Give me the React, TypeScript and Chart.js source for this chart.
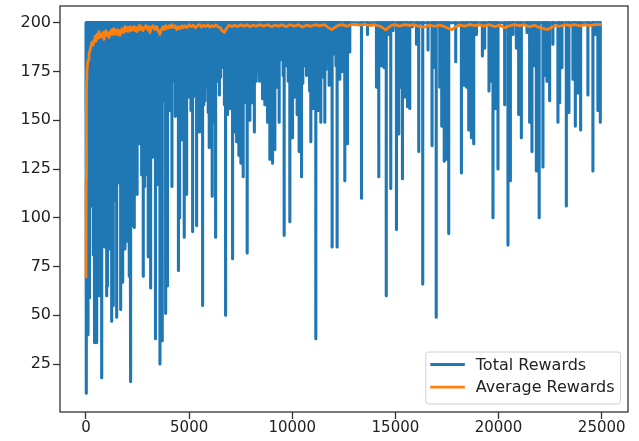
import React, { useEffect, useRef } from "react";
import { Chart, registerables } from "chart.js";

Chart.register(...registerables);

const MAX_REWARD = 200;
const LAST_EPISODE = 25000;
const FIRST_REWARD = 155;

// deep failures (clearly visible spikes)
const dipEpisodes = [
  5, 24, 97, 170, 291, 354, 436, 518, 596, 678, 761, 872, 920, 1003, 1041, 1080, 1163, 1245, 1322, 1405,
  1487, 1516, 1613, 1681, 1778, 1889, 1972, 2001, 2097, 2180, 2262, 2340, 2422, 2533, 2616, 2698, 2776, 2858, 2940, 3018,
  3100, 3134, 3182, 3260, 3367, 3473, 3585, 3696, 3861, 3948, 4069, 4166, 4481, 4553, 4650, 4762, 4878, 5004, 5169, 5280,
  5362, 5440, 5522, 5653, 5764, 5876, 5973, 6118, 6200, 6283, 6409, 6525, 6651, 6767, 6864, 6942, 7024, 7106, 7218, 7300,
  7411, 7508, 7620, 7702, 7813, 7944, 8065, 8162, 8346, 8429, 8559, 8671, 8802, 8913, 9044, 9155, 9267, 9364, 9509, 9606,
  9722, 9882, 10013, 10124, 10235, 10332, 10449, 10574, 10691, 10817, 10899, 11011, 11141, 11253, 11383, 11495, 11577, 11689, 11786, 11931,
  12062, 12173, 12304, 12546, 12677, 12788, 13355, 13646, 14081, 14193, 14324, 14450, 14556, 14692, 14774, 14886, 15050, 15162, 15244, 15341,
  15452, 15583, 15695, 15825, 16019, 16131, 16324, 16581, 16775, 16906, 16978, 17148, 17245, 17366, 17472, 17584, 17923, 18199, 18310, 18441,
  18553, 18683, 18795, 18926, 19216, 19328, 19536, 19604, 19730, 19846, 19972, 20296, 20456, 20572, 20698, 20863, 20975, 21105, 21377, 21507,
  21619, 21750, 21832, 21968, 22152, 22234, 22345, 22476, 22636, 22878, 22961, 23072, 23285, 23411, 23605, 23721, 23847, 23978, 24331, 24574,
  24704, 24816, 24932,
];
const dipRewards = [
  10, 26, 40, 59, 106, 81, 36, 36, 70, 60, 18, 89, 85, 60, 65, 128, 84, 47, 55, 127,
  49, 146, 122, 53, 67, 84, 88, 136, 70, 16, 96, 95, 120, 154, 185, 122, 70, 135, 142, 80,
  127, 64, 191, 172, 38, 117, 25, 37, 51, 65, 155, 116, 73, 100, 140, 90, 112, 162, 93, 165,
  96, 159, 144, 55, 160, 197, 136, 111, 176, 90, 177, 172, 190, 50, 153, 160, 189, 79, 144, 139,
  132, 128, 121, 163, 82, 150, 159, 144, 185, 170, 161, 158, 149, 130, 128, 135, 167, 149, 195, 91,
  178, 98, 141, 162, 153, 134, 121, 178, 173, 165, 139, 156, 38, 155, 149, 191, 149, 184, 168, 85,
  196, 85, 171, 119, 138, 185, 110, 194, 167, 121, 178, 177, 60, 194, 115, 196, 94, 143, 167, 120,
  162, 157, 156, 198, 189, 134, 66, 186, 137, 177, 49, 167, 147, 129, 130, 92, 180, 123, 168, 167,
  145, 141, 138, 194, 183, 187, 165, 170, 100, 156, 125, 158, 86, 119, 194, 187, 153, 141, 195, 149,
  134, 178, 124, 100, 126, 173, 170, 160, 189, 149, 159, 177, 106, 154, 171, 147, 164, 145, 163, 124,
  194, 155, 149,
];

// shallower failures packed between the deep ones (the solid band of the early episodes)
const minorDipEpisodes = [
  133, 230, 322, 395, 477, 557, 637, 720, 816, 896, 961, 1121, 1204, 1283, 1363, 1446, 1564, 1647, 1729, 1833,
  1930, 2049, 2138, 2221, 2301, 2381, 2477, 2574, 2737, 2817, 2899, 2979, 3059, 3221, 3313, 3420, 3529, 3640, 3778, 3904,
  4008, 4117, 4250, 4330, 4410, 4517, 4601, 4706, 4820, 4941, 5086, 5224, 5321, 5401, 5481, 5587, 5708, 5820, 5924, 6045,
  6159, 6241, 6346, 6467, 6588, 6709, 6815, 6903, 6983, 7065, 7162, 7259, 7355, 7459, 7564, 7661, 7757, 7878, 8004, 8113,
  8254, 8387, 8494, 8615, 8736, 8857, 8978, 9099, 9211, 9315, 9436, 9557, 9664, 9802, 9947, 10068, 10179, 10283, 10390, 10511,
  10632, 10754, 10858, 10955, 11076, 11197, 11318, 11439, 11536, 11633, 11737, 11858, 11996, 12117, 12238, 12425, 12611, 12732,
];
const minorDipRewards = [
  120, 112, 125, 108, 118, 104, 122, 110, 128, 115, 107, 130, 112, 124, 109, 132, 118, 126, 104, 121,
  113, 127, 108, 131, 119, 125, 112, 138, 127, 116, 134, 122, 140, 131, 145, 128, 150, 141, 160, 148,
  166, 158, 170, 152, 175, 164, 157, 171, 150, 168, 155, 173, 162, 169, 151, 176, 158, 167, 154, 172,
  160, 149, 170, 163, 177, 158, 166, 171, 156, 174, 161, 168, 152, 170, 163, 176, 159, 172, 166, 180,
  170, 183, 174, 185, 168, 178, 171, 186, 175, 168, 181, 173, 184, 170, 179, 187, 172, 182, 176, 169,
  185, 177, 183, 171, 186, 174, 180, 172, 187, 176, 182, 170, 184, 178, 186, 175, 183, 189,
];

// [episode, moving-average reward]
const averageRewards: [number, number][] = [
  [0, 69], [8, 120], [20, 165], [50, 176], [100, 181], [145, 184], [194, 186], [242, 188], [290, 190], [340, 188.5],
  [390, 191], [436, 193], [484, 190.5], [533, 194], [581, 192], [630, 195.5], [678, 192.5], [730, 194], [775, 193], [830, 195],
  [872, 191.5], [920, 194], [969, 196], [1020, 193.5], [1066, 194.5], [1110, 192.5], [1163, 195.5], [1210, 194], [1260, 196.5], [1310, 194],
  [1356, 197], [1400, 195], [1453, 196], [1500, 194], [1550, 196.5], [1600, 195], [1647, 193.5], [1700, 196], [1744, 197], [1800, 195],
  [1841, 196.5], [1890, 198], [1938, 196], [1990, 197.5], [2034, 195.5], [2080, 197], [2131, 198], [2180, 196], [2228, 197.5], [2280, 196.5],
  [2325, 198], [2380, 196], [2422, 197.5], [2470, 195.5], [2519, 197], [2570, 198.5], [2616, 196.5], [2680, 198], [2761, 196], [2830, 197.5],
  [2906, 198.5], [2980, 196.5], [3050, 198], [3100, 195], [3170, 197.5], [3250, 198.5], [3342, 196.5], [3420, 198], [3500, 196], [3585, 194],
  [3650, 196.5], [3730, 198], [3800, 196.5], [3870, 198.5], [3950, 197], [4030, 198.5], [4100, 197.5], [4166, 199], [4250, 197.5], [4330, 198.5],
  [4400, 196.5], [4480, 198], [4560, 197], [4650, 198.5], [4720, 197.5], [4800, 198.5], [4900, 197.5], [5000, 199], [5100, 198], [5200, 198.8],
  [5300, 197.5], [5400, 198.5], [5500, 199], [5600, 197.8], [5700, 198.8], [5800, 198], [5900, 199], [6000, 197.8], [6100, 198.6], [6200, 198],
  [6300, 199], [6400, 198], [6500, 197.5], [6600, 196], [6700, 195], [6780, 196.5], [6870, 198], [6950, 198.8], [7072, 198], [7200, 198.8],
  [7350, 198], [7500, 199], [7650, 198.2], [7800, 199], [7950, 198], [8100, 198.8], [8250, 198.2], [8429, 199], [8600, 198.3], [8800, 199],
  [9000, 198], [9155, 198.8], [9350, 198.2], [9500, 199], [9700, 198], [9882, 199], [10100, 198.3], [10300, 199], [10500, 197.8], [10700, 198.8],
  [10900, 198.2], [11100, 199], [11335, 198.4], [11550, 199], [11750, 197.5], [11916, 196.5], [12050, 197.5], [12200, 198.5], [12400, 199], [12650, 198.3],
  [12850, 199], [13030, 199.2], [13250, 198.8], [13500, 199.2], [13757, 198.6], [14000, 199], [14250, 198.2], [14450, 197], [14532, 196.3], [14650, 197.5],
  [14800, 198.6], [14968, 199], [15200, 198.3], [15450, 199], [15695, 198.6], [15900, 199], [16150, 198.2], [16421, 197.8], [16650, 198.8], [16900, 198.2],
  [17148, 198.8], [17400, 198], [17600, 197], [17729, 196.5], [17900, 197.8], [18100, 198.8], [18359, 198.3], [18600, 199], [18850, 198.5], [19085, 199],
  [19300, 198.3], [19550, 199], [19812, 198], [20050, 198.8], [20296, 197.5], [20500, 198.4], [20781, 199], [21000, 198.5], [21250, 199], [21507, 198],
  [21750, 198.7], [21992, 197.5], [22200, 197], [22380, 196.5], [22600, 197.8], [22800, 198.6], [22961, 198.2], [23200, 199], [23450, 198.6], [23687, 199],
  [23950, 198.4], [24200, 199], [24414, 198.5], [24700, 199], [25000, 199],
];

const xTicks = [0, 5000, 10000, 15000, 20000, 25000];
const yTicks = [25, 50, 75, 100, 125, 150, 175, 200];
const seriesLabels = ["Total Rewards", "Average Rewards"];
const seriesColors = ["#1f77b4", "#ff7f0e"];

const FONT = "DejaVu Sans";

function buildTotal() {
  const dips: [number, number][] = [];
  dipEpisodes.forEach((ep, i) => dips.push([ep, dipRewards[i]]));
  minorDipEpisodes.forEach((ep, i) => dips.push([ep, minorDipRewards[i]]));
  dips.sort((a, b) => a[0] - b[0]);
  const pts: { x: number; y: number }[] = [{ x: 0, y: FIRST_REWARD }, { x: 1, y: MAX_REWARD }];
  dips.forEach(([ep, v]) => {
    pts.push({ x: ep - 1, y: MAX_REWARD });
    pts.push({ x: ep, y: v });
    pts.push({ x: ep + 1, y: MAX_REWARD });
  });
  pts.push({ x: LAST_EPISODE, y: MAX_REWARD });
  return pts;
}

function buildAvg() {
  return averageRewards.map(([ep, v]) => ({ x: ep, y: v }));
}

const framePlugin = {
  id: "frame",
  afterDatasetsDraw(chart: any) {
    const { ctx, chartArea } = chart;
    ctx.save();
    ctx.strokeStyle = "#333";
    ctx.lineWidth = 1.3;
    ctx.strokeRect(chartArea.left, chartArea.top, chartArea.right - chartArea.left, chartArea.bottom - chartArea.top);
    ctx.restore();
  },
};

const legendPlugin = {
  id: "mplLegend",
  afterDraw(chart: any) {
    const { ctx, chartArea } = chart;
    const ds = chart.data.datasets;
    ctx.save();
    ctx.font = `16px "${FONT}"`;
    const textW = Math.max(...ds.map((d: any) => ctx.measureText(d.label).width));
    const padL = 4.5, handle = 34.5, gap = 11, padR = 6;
    const w = padL + handle + gap + textW + padR;
    const h = 52;
    const right = chartArea.right - 7.5;
    const bottom = chartArea.bottom - 8;
    const left = right - w;
    const top = bottom - h;
    const r = 3;
    ctx.beginPath();
    ctx.moveTo(left + r, top);
    ctx.lineTo(right - r, top);
    ctx.quadraticCurveTo(right, top, right, top + r);
    ctx.lineTo(right, bottom - r);
    ctx.quadraticCurveTo(right, bottom, right - r, bottom);
    ctx.lineTo(left + r, bottom);
    ctx.quadraticCurveTo(left, bottom, left, bottom - r);
    ctx.lineTo(left, top + r);
    ctx.quadraticCurveTo(left, top, left + r, top);
    ctx.closePath();
    ctx.fillStyle = "rgba(255,255,255,0.8)";
    ctx.fill();
    ctx.strokeStyle = "#d0d0d0";
    ctx.lineWidth = 1;
    ctx.stroke();
    ds.forEach((d: any, i: number) => {
      const cy = top + 12.5 + i * 22.7;
      ctx.beginPath();
      ctx.strokeStyle = d.borderColor;
      ctx.lineWidth = 2.8;
      ctx.moveTo(left + padL, cy);
      ctx.lineTo(left + padL + handle, cy);
      ctx.stroke();
      ctx.fillStyle = "#222";
      ctx.textAlign = "left";
      ctx.textBaseline = "middle";
      ctx.fillText(d.label, left + padL + handle + gap, cy + 1);
    });
    ctx.restore();
  },
};

export default function App() {
  const ref = useRef<HTMLCanvasElement>(null);
  useEffect(() => {
    if (!ref.current) return;
    const chart = new Chart(ref.current, {
      type: "line",
      data: {
        datasets: [
          {
            label: seriesLabels[0],
            data: buildTotal(),
            borderColor: seriesColors[0],
            borderWidth: 3.1,
            pointRadius: 0,
            tension: 0,
            borderJoinStyle: "round",
            borderCapStyle: "butt",
            order: 1,
          },
          {
            label: seriesLabels[1],
            data: buildAvg(),
            borderColor: seriesColors[1],
            borderWidth: 2.8,
            pointRadius: 0,
            tension: 0,
            borderJoinStyle: "round",
            order: 0,
          },
        ],
      },
      options: {
        animation: false,
        responsive: false,
        parsing: false,
        layout: { padding: { left: 0, top: 6, right: 11, bottom: 0 } },
        plugins: { legend: { display: false }, tooltip: { enabled: false } },
        scales: {
          x: {
            type: "linear",
            min: -1260,
            max: 26275,
            afterBuildTicks: (s: any) => {
              s.ticks = xTicks.map((v) => ({ value: v }));
            },
            afterFit: (s: any) => {
              s.height = 29;
              s.paddingLeft = 0;
              s.paddingRight = 0;
            },
            grid: { display: true, drawOnChartArea: false, drawTicks: true, tickLength: 7, tickColor: "#333", tickWidth: 1.3 },
            border: { display: false },
            ticks: {
              font: { family: FONT, size: 15 },
              color: "#222",
              padding: 0,
              maxRotation: 0,
              autoSkip: false,
              callback: (v: any) => String(v),
            },
          },
          y: {
            type: "linear",
            min: 0.4,
            max: 208.6,
            afterBuildTicks: (s: any) => {
              s.ticks = yTicks.map((v) => ({ value: v }));
            },
            afterFit: (s: any) => {
              s.width = 60;
              s.paddingTop = 0;
              s.paddingBottom = 0;
            },
            grid: { display: true, drawOnChartArea: false, drawTicks: true, tickLength: 7, tickColor: "#333", tickWidth: 1.3 },
            border: { display: false },
            ticks: { font: { family: FONT, size: 16 }, color: "#222", padding: 2, autoSkip: false },
          },
        },
      },
      plugins: [framePlugin, legendPlugin],
    } as any);
    return () => chart.destroy();
  }, []);
  return (
    <div style={{ position: "fixed", left: 0, top: 0, width: 639, height: 441, background: "#fff" }}>
      <canvas ref={ref} width={639} height={441} />
    </div>
  );
}
